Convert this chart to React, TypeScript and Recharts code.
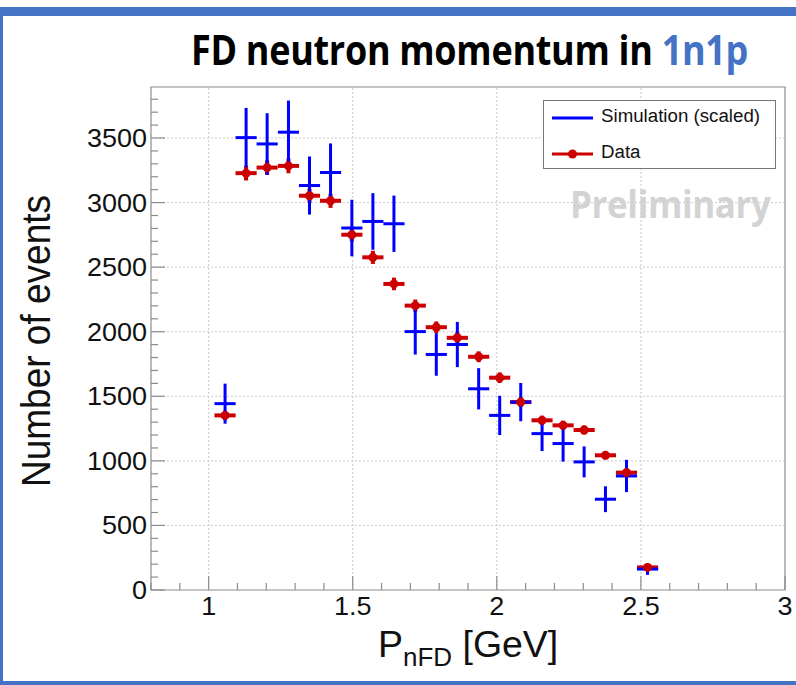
import React from 'react';
import { ComposedChart, Scatter, XAxis, YAxis, ErrorBar, ReferenceLine, ReferenceArea, Legend } from 'recharts';

// 30 bins over 0.8 - 3.0 GeV, only the filled ones are listed
const binCenters = [1.057, 1.13, 1.203, 1.277, 1.35, 1.423, 1.497, 1.57, 1.643, 1.717, 1.79, 1.863, 1.937, 2.01, 2.083, 2.157, 2.23, 2.303, 2.377, 2.45, 2.523];
const binHalfWidth = 0.0367;

const dataCounts = [1352, 3228, 3271, 3284, 3053, 3014, 2751, 2576, 2370, 2202, 2035, 1953, 1806, 1644, 1455, 1314, 1275, 1239, 1043, 909, 175];
const dataErrors = [37, 57, 57, 57, 55, 55, 52, 51, 49, 47, 45, 44, 42, 41, 38, 36, 36, 35, 32, 30, 13];

const simCounts = [1443, 3503, 3454, 3545, 3132, 3233, 2803, 2854, 2836, 2001, 1824, 1901, 1558, 1352, 1455, 1211, 1134, 992, 703, 883, 162];
const simErrors = [155, 230, 238, 245, 225, 225, 219, 219, 218, 178, 165, 175, 160, 152, 148, 135, 140, 120, 100, 125, 45];

const xTicks = [0.8, 0.9, 1.0, 1.1, 1.2, 1.3, 1.4, 1.5, 1.6, 1.7, 1.8, 1.9, 2.0, 2.1, 2.2, 2.3, 2.4, 2.5, 2.6, 2.7, 2.8, 2.9, 3.0];
const xMajorTicks = [1, 1.5, 2, 2.5, 3];
const yTicks = [0, 100, 200, 300, 400, 500, 600, 700, 800, 900, 1000, 1100, 1200, 1300, 1400, 1500, 1600, 1700, 1800, 1900, 2000, 2100, 2200, 2300, 2400, 2500, 2600, 2700, 2800, 2900, 3000, 3100, 3200, 3300, 3400, 3500, 3600, 3700, 3800];
const yMajorTicks = [0, 500, 1000, 1500, 2000, 2500, 3000, 3500];
const xGrid = [1, 1.5, 2, 2.5];
const yGrid = [500, 1000, 1500, 2000, 2500, 3000, 3500];

const dataPoints = binCenters.map((x, i) => ({ x, y: dataCounts[i], ex: binHalfWidth, ey: dataErrors[i] }));
const simPoints = binCenters.map((x, i) => ({ x, y: simCounts[i], ex: binHalfWidth, ey: simErrors[i] }));

const BLUE = '#0000ff';
const RED = '#cc0000';
const AXIS = '#8c8c8c';
const FONT = '"Liberation Sans", Arial, sans-serif';
const STRETCH = 1.08;

const isMajor = (v: number, majors: number[]) => majors.some((m) => Math.abs(m - v) < 1e-6);

const XTick = (props: any) => {
  const { x, y, payload } = props;
  const major = isMajor(payload.value, xMajorTicks);
  return (
    <g>
      <line x1={x} x2={x} y1={y} y2={y - (major ? 14 : 7)} stroke={AXIS} strokeWidth={1.2} />
      {major && (
        <text transform={`translate(${x},${y + 25}) scale(${STRETCH},1)`} textAnchor="middle" fontFamily={FONT} fontSize={25} fill="#111">
          {String(Number(payload.value))}
        </text>
      )}
    </g>
  );
};

const YTick = (props: any) => {
  const { x, y, payload } = props;
  const major = isMajor(payload.value, yMajorTicks);
  return (
    <g>
      <line x1={x} x2={x + (major ? 14 : 7)} y1={y} y2={y} stroke={AXIS} strokeWidth={1.2} />
      {major && (
        <text transform={`translate(${x - 4},${y + 9}) scale(${STRETCH},1)`} textAnchor="end" fontFamily={FONT} fontSize={25} fill="#111">
          {payload.value}
        </text>
      )}
    </g>
  );
};

const LegendBox = () => (
  <div style={{ width: 233, height: 69, border: '1px solid #777', background: '#fff', boxSizing: 'border-box', fontFamily: FONT, fontSize: 17, color: '#111', position: 'relative' }}>
    <svg width={50} height={69} style={{ position: 'absolute', left: 0, top: 0 }}>
      <line x1={8} x2={49} y1={17} y2={17} stroke={BLUE} strokeWidth={3} />
      <line x1={8} x2={49} y1={53} y2={53} stroke={RED} strokeWidth={3} />
      <circle cx={28.5} cy={53} r={4.5} fill={RED} />
    </svg>
    <div style={{ position: 'absolute', left: 57, top: 5, whiteSpace: 'nowrap', transform: 'scale(1.1, 1.05)', transformOrigin: 'left top' }}>Simulation (scaled)</div>
    <div style={{ position: 'absolute', left: 57, top: 41, transform: 'scale(1.1, 1.05)', transformOrigin: 'left top' }}>Data</div>
  </div>
);

const RedMarker = (props: any) => <circle cx={props.cx} cy={props.cy} r={4.5} fill={RED} />;
const NoMarker = () => <g />;

export default function App() {
  return (
    <div style={{ position: 'absolute', left: 0, top: 0, width: 796, height: 685, background: '#fff', overflow: 'hidden' }}>
      <div style={{ position: 'absolute', left: 0, top: 7, width: 796, height: 678, borderTop: '9px solid #4472c4', borderLeft: '3px solid #4472c4', borderBottom: '4px solid #4472c4', boxSizing: 'border-box' }} />

      <div style={{ position: 'absolute', left: 191, top: 22, whiteSpace: 'nowrap', fontFamily: '"Open Sans", sans-serif', fontWeight: 700, fontSize: 36, color: '#000', letterSpacing: -0.3, transform: 'scale(1, 1.12)', transformOrigin: 'left top' }}>
        FD neutron momentum in <span style={{ color: '#4472c4' }}>1n1p</span>
      </div>

      <ComposedChart width={796} height={685} margin={{ top: 87, right: 11, bottom: 65, left: 0 }} style={{ position: 'absolute', left: 0, top: 0 }}>
        <XAxis type="number" dataKey="x" domain={[0.8, 3.0]} ticks={xTicks} interval={0} allowDataOverflow axisLine={false} tickLine={false} tickSize={0} tickMargin={0} height={30} tick={<XTick />} />
        <YAxis type="number" dataKey="y" domain={[0, 3895]} ticks={yTicks} interval={0} allowDataOverflow axisLine={false} tickLine={false} tickSize={0} tickMargin={0} width={151} tick={<YTick />} />
        {xGrid.map((v) => (
          <ReferenceLine key={`gx${v}`} x={v} stroke="#c8c8c8" strokeDasharray="2 2" />
        ))}
        {yGrid.map((v) => (
          <ReferenceLine key={`gy${v}`} y={v} stroke="#c8c8c8" strokeDasharray="2 2" />
        ))}
        <ReferenceArea x1={0.8} x2={3.0} y1={0} y2={3895} fill="none" stroke={AXIS} strokeWidth={1.2} />
        <Scatter name="Data" data={dataPoints} fill={RED} shape={<RedMarker />} isAnimationActive={false}>
          <ErrorBar dataKey="ex" direction="x" width={0} stroke={RED} strokeWidth={4} isAnimationActive={false} />
          <ErrorBar dataKey="ey" direction="y" width={0} stroke={RED} strokeWidth={4} isAnimationActive={false} />
        </Scatter>
        <Scatter name="Simulation (scaled)" data={simPoints} fill={BLUE} shape={<NoMarker />} isAnimationActive={false}>
          <ErrorBar dataKey="ex" direction="x" width={0} stroke={BLUE} strokeWidth={3} isAnimationActive={false} />
          <ErrorBar dataKey="ey" direction="y" width={0} stroke={BLUE} strokeWidth={3} isAnimationActive={false} />
        </Scatter>
        <Legend layout="vertical" align="center" verticalAlign="middle" content={<LegendBox />} wrapperStyle={{ left: 543, top: 100, width: 233, height: 69 }} />
      </ComposedChart>

      <div style={{ position: 'absolute', left: 570, top: 178, fontFamily: '"Open Sans", sans-serif', fontWeight: 700, fontSize: 35, color: '#d3d3d3', whiteSpace: 'nowrap', letterSpacing: -0.4, transform: 'scale(1, 1.08)', transformOrigin: 'left top' }}>
        Preliminary
      </div>

      <div style={{ position: 'absolute', left: 37, top: 341, transform: 'translate(-50%, -50%) rotate(-90deg) scale(1, 1.1)', fontFamily: FONT, fontSize: 37, color: '#111', whiteSpace: 'nowrap' }}>
        Number of events
      </div>

      <div style={{ position: 'absolute', left: 378, top: 625, fontFamily: FONT, fontSize: 36, color: '#111', whiteSpace: 'nowrap', transform: 'scale(1.04, 1)', transformOrigin: 'left top', lineHeight: '40px' }}>
        P<span style={{ fontSize: 25, position: 'relative', top: 9 }}>nFD</span> [GeV]
      </div>
    </div>
  );
}
